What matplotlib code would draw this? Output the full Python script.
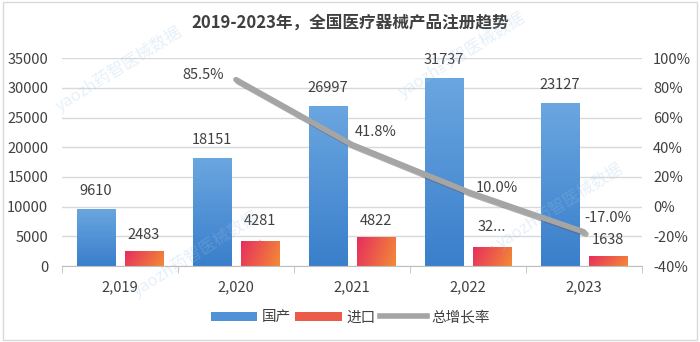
import numpy as np
import matplotlib
matplotlib.use('Agg')
from matplotlib import pyplot as plt
from matplotlib import patheffects as pe
from matplotlib.patches import Patch, Rectangle
from matplotlib.lines import Line2D
from matplotlib.colors import LinearSegmentedColormap

plt.rcParams['font.family'] = ['Noto Sans CJK SC', 'DejaVu Sans']

# data
years = ['2,019', '2,020', '2,021', '2,022', '2,023']
domestic = [9610, 18151, 26997, 31737, 27400]      # bar heights as drawn
domestic_labels = ['9610', '18151', '26997', '31737', '23127']
imported = [2483, 4281, 4822, 3200, 1638]
imported_labels = ['2483', '4281', '4822', '32...', '1638']
growth_years = [1, 2, 3, 4]
growth = [85.5, 41.8, 10.0, -17.0]
growth_labels = ['85.5%', '41.8%', '10.0%', '-17.0%']
growth_offsets = [(-33, 5), (24, 13), (29, 4), (24, 14)]

text_color = '#404040'
blue_cmap = LinearSegmentedColormap.from_list('b', ['#3a7fcb', '#6aa6e0'])
red_cmap = LinearSegmentedColormap.from_list('r', ['#e62e5e', '#f38a36'])

fig = plt.figure(figsize=(7, 3.42), dpi=100)
fig.patches.append(Rectangle((0.004, 0.006), 0.992, 0.988, transform=fig.transFigure,
                             fill=False, edgecolor='#d9d9d9', lw=1))
ax = fig.add_axes([0.0886, 0.222, 0.8284, 0.608])
ax2 = ax.twinx()

x = np.arange(len(years))
w = 0.33
off = 0.207


def gradient_bars(ax, xs, heights, cmap, vertical):
    bars = ax.bar(xs, heights, w, color='none', zorder=2)
    for b in bars:
        x0, y0 = b.get_x(), b.get_y()
        bw, bh = b.get_width(), b.get_height()
        if vertical:
            grad = np.linspace(0, 1, 100).reshape(-1, 1)
        else:
            gx, gy = np.meshgrid(np.linspace(0, 1, 60), np.linspace(1, 0, 60))
            grad = 0.8 * gx + 0.2 * gy
        im = ax.imshow(grad, cmap=cmap, extent=[x0, x0 + bw, y0, y0 + bh],
                       origin='lower', aspect='auto', zorder=2)
        im.set_clip_path(b)
    return bars


gradient_bars(ax, x - off, domestic, blue_cmap, True)
gradient_bars(ax, x + off, imported, red_cmap, False)

ax.set_xlim(-0.5, 4.5)
ax.set_ylim(0, 35000)
ax.set_yticks(np.arange(0, 35001, 5000))
ax.set_xticks(x)
ax.set_xticklabels(years)
ax.set_xticks(np.arange(-0.5, 5, 1), minor=True)
ax.tick_params(axis='x', which='major', length=0, pad=10, labelsize=10.5, labelcolor=text_color)
ax.tick_params(axis='x', which='minor', length=5, color='#bfbfbf')
ax.tick_params(axis='y', length=0, labelsize=10.5, labelcolor=text_color, pad=10)
ax.grid(axis='y', color='#d9d9d9', lw=1, zorder=0)
ax.set_axisbelow(True)
for s in ['top', 'left', 'right']:
    ax.spines[s].set_visible(False)
ax.spines['bottom'].set_color('#bfbfbf')

for xi, h, lab in zip(x - off, domestic, domestic_labels):
    ax.annotate(lab, (xi, h), xytext=(0, 18), textcoords='offset pixels',
                ha='center', va='center', fontsize=10.5, color=text_color)
for i, (xi, h, lab) in enumerate(zip(x + off, imported, imported_labels)):
    if lab in ('4281', '32...'):
        ax.annotate(lab, (xi, h), xytext=(0, 20), textcoords='offset pixels',
                    ha='center', va='center', fontsize=10.5, color=text_color,
                    arrowprops=dict(arrowstyle='-', color='#a6a6a6', lw=0.8,
                                    shrinkA=7, shrinkB=0))
    else:
        ax.annotate(lab, (xi, h), xytext=(0, 16), textcoords='offset pixels',
                    ha='center', va='center', fontsize=10.5, color=text_color)

ax2.plot(growth_years, growth, color='#a5a5a5', lw=4, solid_capstyle='round', zorder=3,
         path_effects=[pe.SimpleLineShadow(offset=(1.5, -1.5), shadow_color='#606060', alpha=0.5),
                       pe.Normal()])
for gx, gy, lab, o in zip(growth_years, growth, growth_labels, growth_offsets):
    ax2.annotate(lab, (gx, gy), xytext=o, textcoords='offset pixels',
                 ha='center', va='center', fontsize=10.5, color=text_color)
ax2.set_ylim(-40, 100)
ax2.set_yticks(np.arange(-40, 101, 20))
ax2.set_yticklabels([f'{v}%' for v in range(-40, 101, 20)])
ax2.tick_params(axis='y', length=0, labelsize=10.5, labelcolor=text_color, pad=8)
for s in ['top', 'left', 'right', 'bottom']:
    ax2.spines[s].set_visible(False)

fig.text(0.5, 0.935, '2019-2023年，全国医疗器械产品注册趋势', ha='center', va='center',
         fontsize=12, fontweight='bold', color=text_color)

# watermarks
for wx, wy in [(0.17, 0.80), (0.66, 0.84), (0.28, 0.26), (0.80, 0.40)]:
    fig.text(wx, wy, 'yaozh药智医械数据', rotation=32, ha='center', va='center',
             fontsize=12, color='#9ec3e6', alpha=0.25)

handles = [Patch(facecolor='#4f92d8'), Patch(facecolor='#ec5a4a'),
           Line2D([0], [0], color='#a5a5a5', lw=4)]
fig.legend(handles, ['国产', '进口', '总增长率'], loc='center', bbox_to_anchor=(0.5, 0.072),
           ncol=3, frameon=False, fontsize=10.5, handlelength=3.2, handleheight=0.6,
           handletextpad=0.3, columnspacing=0.3, labelcolor=text_color)

fig.savefig('out.png', dpi=100)
